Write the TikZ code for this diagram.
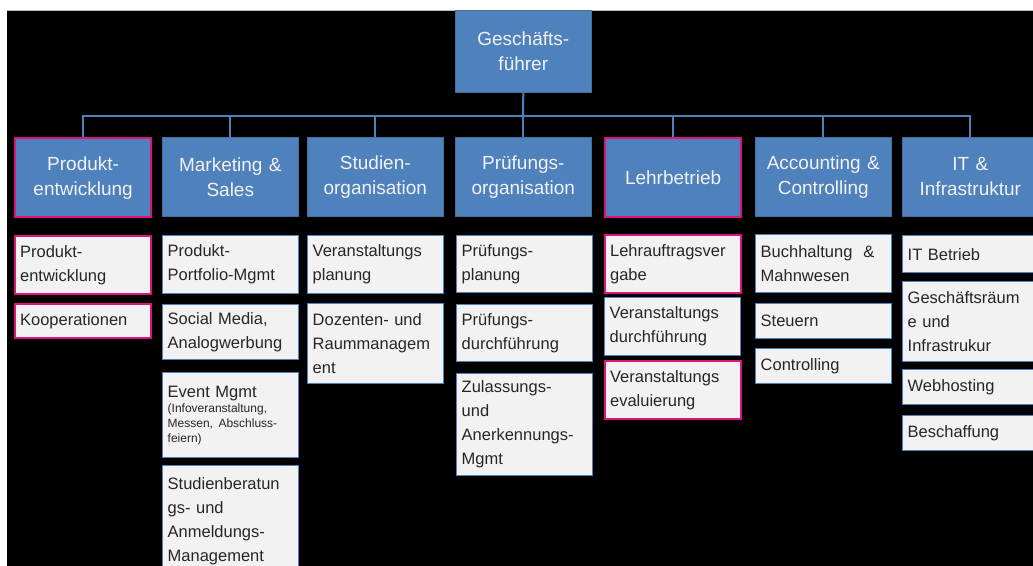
\documentclass[tikz,border=0pt]{standalone}
\usepackage{fontspec}
\setmainfont{Liberation Sans}
\definecolor{obl}{HTML}{4F81BD}
\definecolor{odb}{HTML}{41719C}
\definecolor{opk}{HTML}{E0137C}
\definecolor{ofl}{HTML}{F2F2F2}
\definecolor{otx}{HTML}{262626}
\begin{document}
\begin{tikzpicture}[x=1pt,y=-1pt,
  headbox/.style={fill=obl, draw=odb, line width=0.6pt, text=ofl,
    font=\fontsize{19}{25}\selectfont, align=center, text width=130pt,
    inner xsep=3pt, inner ysep=0pt, anchor=north west},
  pinkedge/.style={draw=opk, line width=2.2pt},
  subbox/.style={fill=ofl, draw=obl, line width=1.4pt, text=otx,
    font=\fontsize{16.5}{24}\selectfont, align=left, text width=126pt,
    inner xsep=5pt, inner ysep=0pt, anchor=north west},
  conn/.style={draw=obl, line width=2pt}]
\useasboundingbox (0,0) rectangle (1033,565);
\clip (0,0) rectangle (1033,565);
\fill[white] (0,0) rectangle (1033,565);
\fill[black] (7,10) rectangle (1040,570);
\draw[black!25, line width=0.8pt] (7,10) -- (1040,10);

% top
\node[headbox, minimum height=82pt] (gf) at (455,10) {Geschäfts-\\führer};

% level 2
\node[headbox, pinkedge, minimum height=79pt] (pe) at (14,137) {Produkt-\\entwicklung};
\node[headbox, minimum height=79pt] (ms) at (162,137) {Marketing \&\\Sales};
\node[headbox, minimum height=79pt] (so) at (307,137) {Studien-\\organisation};
\node[headbox, minimum height=79pt] (po) at (455,137) {Prüfungs-\\organisation};
\node[headbox, pinkedge, minimum height=79pt] (lb) at (604,137) {Lehrbetrieb};
\node[headbox, minimum height=79pt] (ac) at (755,137) {Accounting \&\\Controlling};
\node[headbox, minimum height=79pt] (it) at (902,137) {IT \&\\Infrastruktur};

% connectors
\coordinate (bus) at (523,116);
\draw[conn] (gf.south) -- (bus);
\foreach \c in {pe,ms,so,po,lb,ac,it} \draw[conn] (bus) -| (\c.north);

% column 1
\node[subbox, pinkedge, minimum height=58pt] (pe1) at (14,235) {Produkt-\\entwicklung};
\node[subbox, pinkedge, minimum height=34pt] (pe2) at (14,303) {Kooperationen};

% column 2
\node[subbox, minimum height=58pt] (ms1) at (162,235) {Produkt-\\Portfolio-Mgmt};
\node[subbox, minimum height=55pt] (ms2) at (162,304) {Social Media,\\Analogwerbung};
\node[subbox, minimum height=85pt] (ms3) at (162,372) {Event Mgmt\par
  \fontsize{12}{15}\selectfont (Infoveranstaltung,\\Messen, Abschluss-\\feiern)\par};
\node[subbox, minimum height=112pt] (ms4) at (162,465) {Studienberatun\\gs- und\\Anmeldungs-\\Management};

% column 3
\node[subbox, minimum height=58pt] (so1) at (307,235) {Veranstaltungs\\planung};
\node[subbox, minimum height=80pt] (so2) at (307,303) {Dozenten- und\\Raummanagem\\ent};

% column 4
\node[subbox, minimum height=57pt] (po1) at (456,235) {Prüfungs-\\planung};
\node[subbox, minimum height=57pt] (po2) at (456,304) {Prüfungs-\\durchführung};
\node[subbox, minimum height=102pt] (po3) at (456,373) {Zulassungs-\\und\\Anerkennungs-\\Mgmt};

% column 5
\node[subbox, pinkedge, minimum height=58pt] (lb1) at (604,234) {Lehrauftragsver\\gabe};
\node[subbox, minimum height=58pt] (lb2) at (604,297) {Veranstaltungs\\durchführung};
\node[subbox, pinkedge, minimum height=58pt] (lb3) at (604,360) {Veranstaltungs\\evaluierung};

% column 6
\node[subbox, minimum height=58pt] (ac1) at (755,234) {Buchhaltung \ \&\\Mahnwesen};
\node[subbox, minimum height=35pt] (ac2) at (755,303) {Steuern};
\node[subbox, minimum height=35pt] (ac3) at (755,348) {Controlling};

% column 7
\node[subbox, minimum height=37pt] (it1) at (902,235) {IT Betrieb};
\node[subbox, minimum height=80pt] (it2) at (902,281) {Geschäftsräum\\e und\\Infrastrukur};
\node[subbox, minimum height=35pt] (it3) at (902,369) {Webhosting};
\node[subbox, minimum height=35pt] (it4) at (902,415) {Beschaffung};
\end{tikzpicture}
\end{document}
